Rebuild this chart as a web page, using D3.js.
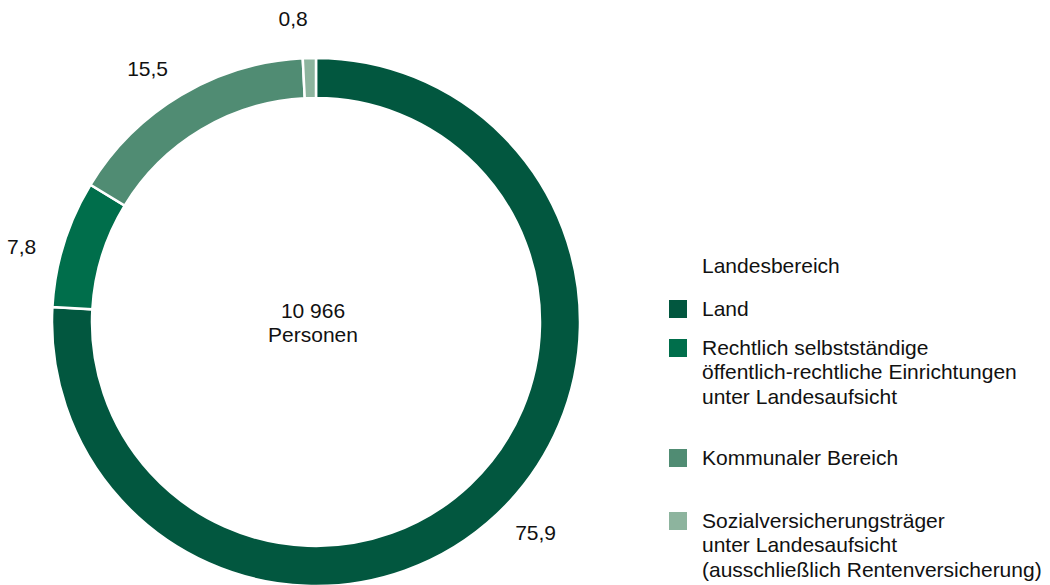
<!DOCTYPE html>
<html>
<head>
<meta charset="utf-8">
<script src="https://cdn.jsdelivr.net/npm/d3@7"></script>
<style>
  body { margin: 0; background: #fff; }
  text { font-family: "Liberation Sans", Arial, sans-serif; fill: #111; }
</style>
</head>
<body>
<div id="chart"></div>
<script>
const categories = [
    'Land',
    'Rechtlich selbstständige öffentlich-rechtliche Einrichtungen unter Landesaufsicht',
    'Kommunaler Bereich',
    'Sozialversicherungsträger unter Landesaufsicht (ausschließlich Rentenversicherung)'
];
const legendLines = [
    ['Land'],
    ['Rechtlich selbstständige', 'öffentlich-rechtliche Einrichtungen', 'unter Landesaufsicht'],
    ['Kommunaler Bereich'],
    ['Sozialversicherungsträger', 'unter Landesaufsicht', '(ausschließlich Rentenversicherung)']
];
const shares = [75.9, 7.8, 15.5, 0.8];
const colors = ['#02573f', '#006e4b', '#508c73', '#8db49e'];
const totalLabel = ['10 966', 'Personen'];
const legendTitle = 'Landesbereich';

const svgWidth = 1050;
const svgHeight = 585;
const cx = 316;
const cy = 322;
const outerRadius = 264;
const innerRadius = 224;
const labelRadius = 304;
const fontSize = 21;

const data = categories.map((c, i) => ({ name: c, value: shares[i], color: colors[i], lines: legendLines[i] }));

const svg = d3.select('#chart')
    .append('svg')
    .attr('width', svgWidth)
    .attr('height', svgHeight);

const pie = d3.pie()
    .value(d => d.value)
    .sort(null);

// labels sit a little counter-clockwise of the slice centres
const labelPie = d3.pie()
    .value(d => d.value)
    .sort(null)
    .startAngle(-0.05)
    .endAngle(2 * Math.PI - 0.05);

const arc = d3.arc()
    .innerRadius(innerRadius)
    .outerRadius(outerRadius);

const labelArc = d3.arc()
    .innerRadius(labelRadius)
    .outerRadius(labelRadius);

const bounds = svg.append('g')
    .attr('transform', `translate(${cx}, ${cy})`);

bounds.selectAll('path')
    .data(pie(data))
    .join('path')
    .attr('d', arc)
    .attr('fill', d => d.data.color)
    .attr('stroke', '#fff')
    .attr('stroke-width', 2.5);

const fmt = v => String(v).replace('.', ',');

bounds.selectAll('text.value')
    .data(labelPie(data))
    .join('text')
    .attr('class', 'value')
    .attr('x', d => labelArc.centroid(d)[0])
    .attr('y', d => labelArc.centroid(d)[1])
    .attr('text-anchor', 'middle')
    .attr('dy', '0.35em')
    .style('font-size', fontSize + 'px')
    .text(d => fmt(d.data.value));

// centre label
bounds.append('text')
    .attr('text-anchor', 'middle')
    .style('font-size', fontSize + 'px')
    .selectAll('tspan')
    .data(totalLabel)
    .join('tspan')
    .attr('x', -3)
    .attr('y', (d, i) => -4 + i * 24)
    .text(d => d);

// legend
const legendX = 669;
const textX = 702;
const lineH = 24.3;
const rowY = [316, 355, 465, 528];

svg.append('text')
    .attr('x', textX)
    .attr('y', 273)
    .style('font-size', fontSize + 'px')
    .text(legendTitle);

const items = svg.selectAll('g.legend')
    .data(data)
    .join('g')
    .attr('class', 'legend')
    .attr('transform', (d, i) => `translate(0, ${rowY[i]})`);

items.append('rect')
    .attr('x', legendX)
    .attr('y', -16)
    .attr('width', 18)
    .attr('height', 18)
    .attr('fill', d => d.color);

items.append('text')
    .style('font-size', fontSize + 'px')
    .selectAll('tspan')
    .data(d => d.lines)
    .join('tspan')
    .attr('x', textX)
    .attr('y', (d, i) => i * lineH)
    .text(d => d);
</script>
</body>
</html>
